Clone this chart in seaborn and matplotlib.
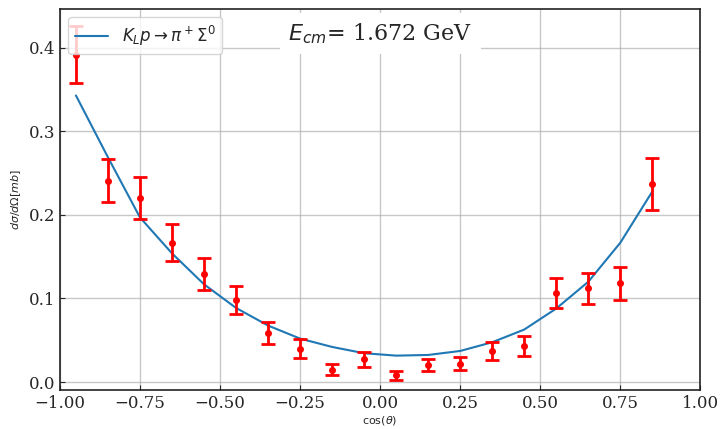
import numpy as np
import pandas as pd
import matplotlib
matplotlib.use('Agg')
import matplotlib.pyplot as plt
import seaborn as sns

# cos(theta) bins
cos_theta = [-0.95, -0.85, -0.75, -0.65, -0.55, -0.45, -0.35, -0.25, -0.15, -0.05,
             0.05, 0.15, 0.25, 0.35, 0.45, 0.55, 0.65, 0.75, 0.85]

# measured dsigma/dOmega [mb] and errors
data_vals = [0.392, 0.241, 0.220, 0.167, 0.129, 0.098, 0.059, 0.040, 0.015, 0.027,
             0.008, 0.020, 0.022, 0.037, 0.043, 0.107, 0.112, 0.118, 0.237]
data_errs = [0.034, 0.026, 0.025, 0.022, 0.019, 0.017, 0.013, 0.011, 0.007, 0.009,
             0.005, 0.007, 0.008, 0.011, 0.012, 0.018, 0.019, 0.020, 0.031]

# model curve
model_vals = [0.343, 0.269, 0.197, 0.154, 0.117, 0.0887, 0.0676, 0.052, 0.042, 0.0345,
              0.0316, 0.0324, 0.0372, 0.0476, 0.0628, 0.088, 0.120, 0.1667, 0.228]

df_model = pd.DataFrame({'cos': cos_theta, 'dsdo': model_vals})

sns.set_style('ticks')
plt.rcParams['font.family'] = ['DejaVu Serif']
plt.rcParams['mathtext.fontset'] = 'dejavusans'

fig, ax = plt.subplots(figsize=(7.22, 4.29), dpi=100)

sns.lineplot(data=df_model, x='cos', y='dsdo', ax=ax, color='#1f77b4', linewidth=1.5,
             label=r'$K_L p \rightarrow \pi^+ \Sigma^0$')
ax.errorbar(cos_theta, data_vals, yerr=data_errs, fmt='o', color='red', markersize=4,
            elinewidth=2, capsize=5, capthick=2, zorder=3)

ax.set_xlim(-1, 1)
ax.set_ylim(-0.01, 0.447)
ax.set_yticks([0.0, 0.1, 0.2, 0.3, 0.4])
ax.grid(True, color='#b0b0b0', linewidth=1, alpha=0.7)
ax.tick_params(direction='in', labelsize=12)
for s in ax.spines.values():
    s.set_linewidth(1.2)
    s.set_color('#222222')
    s.set_zorder(7)

ax.set_xlabel(r'$\cos(\theta)$', fontsize=8, labelpad=1)
ax.set_ylabel(r'$d\sigma/d\Omega[mb]$', fontsize=8)

leg = ax.legend(loc='upper left', fontsize=12, framealpha=0.8)
leg.set_zorder(5)

ax.text(0.5, 0.935, r'$E_{cm}$= 1.672 GeV', transform=ax.transAxes, ha='center', va='center',
        fontsize=16, bbox=dict(facecolor='white', edgecolor='none', pad=6), zorder=6)

plt.subplots_adjust(left=0.083, right=0.97, bottom=0.09, top=0.98)
plt.savefig('out.png', dpi=100)
